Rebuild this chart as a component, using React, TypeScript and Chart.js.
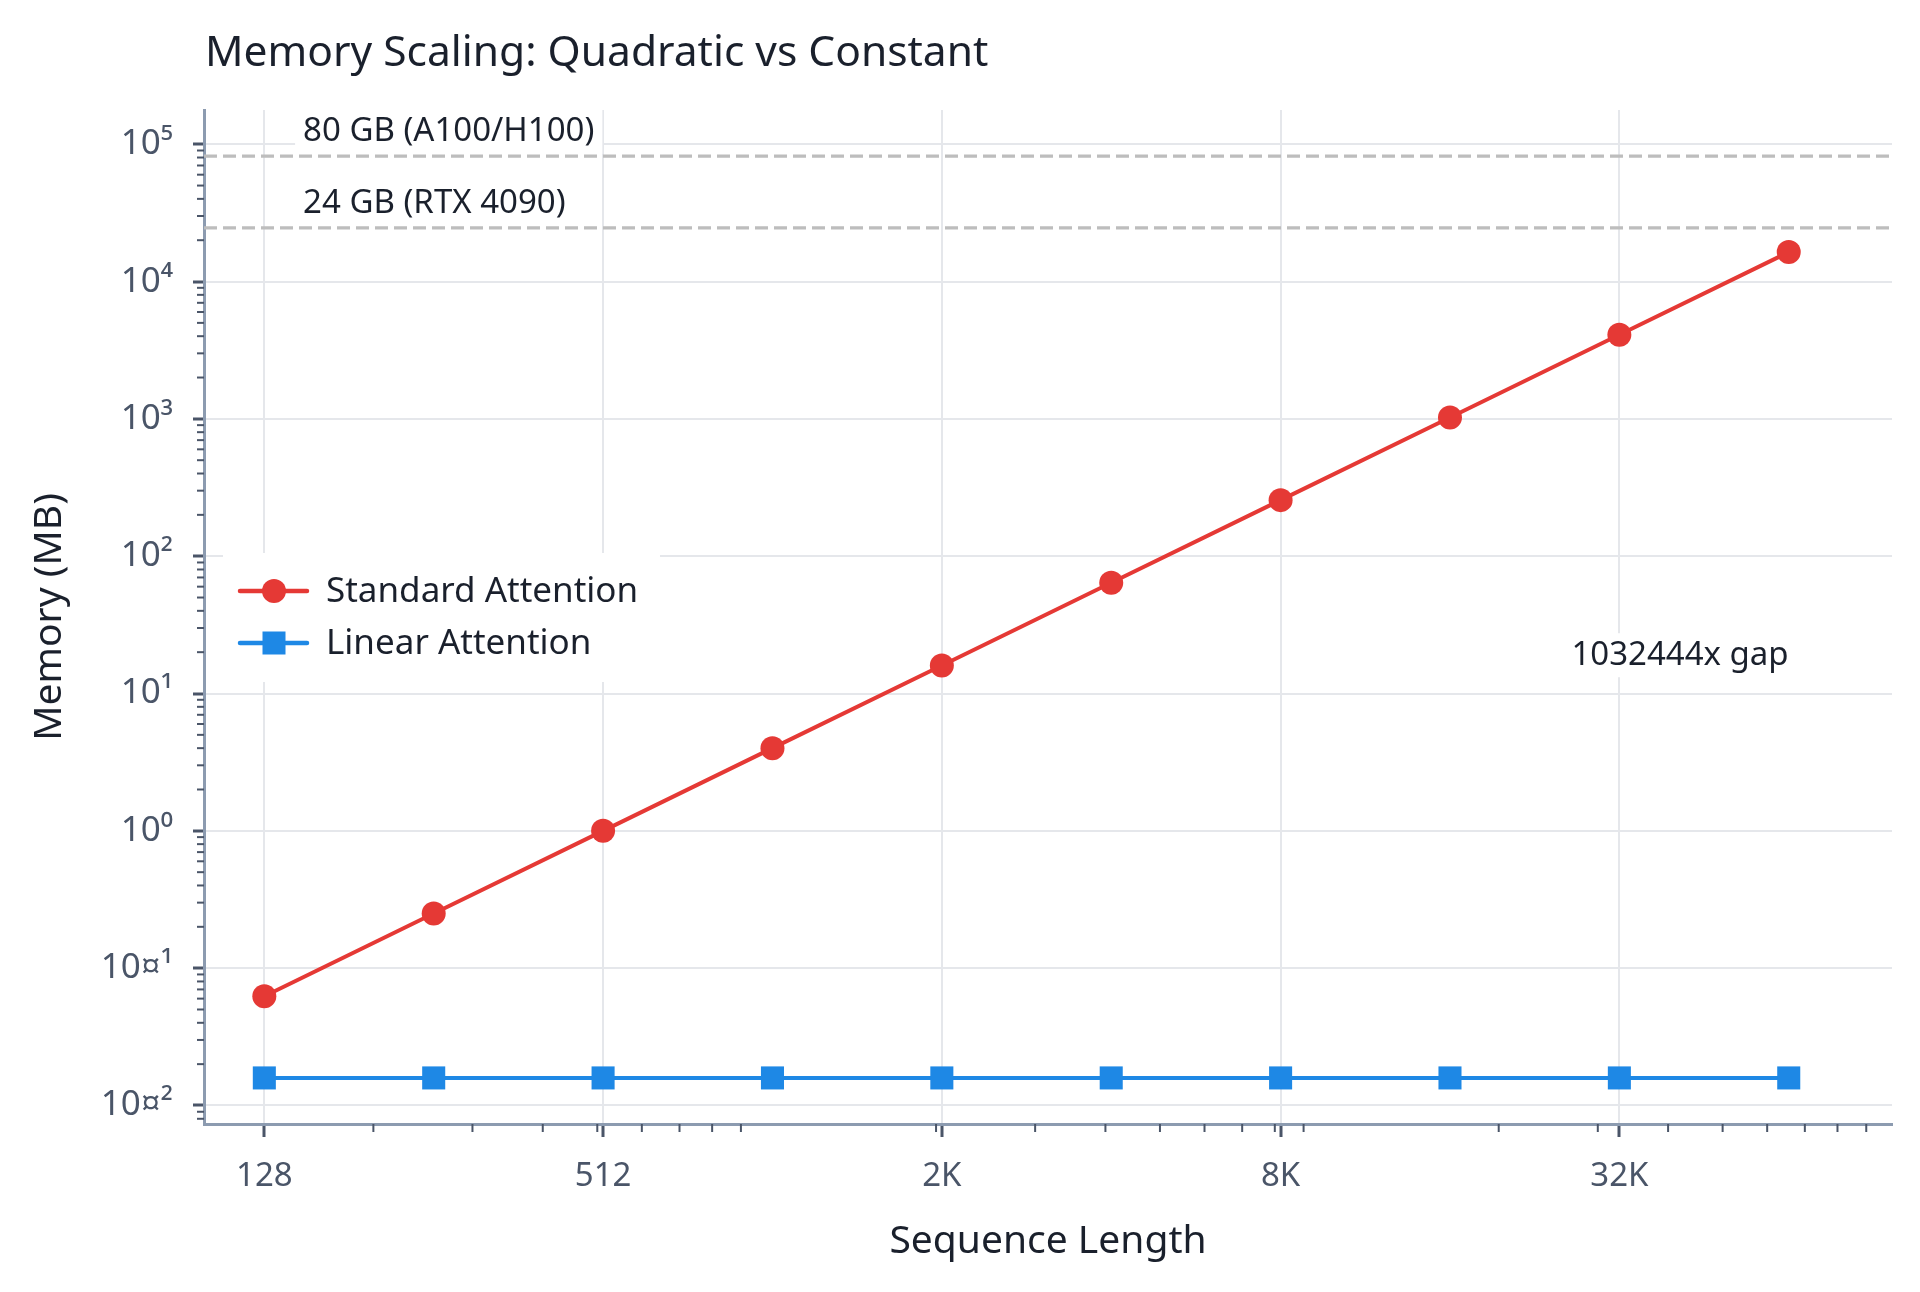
import { useEffect, useRef } from "react"
import { Chart, registerables } from "chart.js"

Chart.register(...registerables)

// sequence lengths (tokens) and memory in MB
const seqLengths = [128, 256, 512, 1024, 2048, 4096, 8192, 16384, 32768, 65536]
const standardMB = [0.0625, 0.25, 1, 4, 16, 64, 256, 1024, 4096, 16384]
const linearMB = [0.01587, 0.01587, 0.01587, 0.01587, 0.01587, 0.01587, 0.01587, 0.01587, 0.01587, 0.01587]

// GPU memory limits (MB) and their labels
const gpuLimitsMB = [81920, 24576]
const gpuLabels = ["80 GB (A100/H100)", "24 GB (RTX 4090)"]
const gpuLabelY = [122880, 36864]
const gpuLabelX = 150

const gapLabel = "1032444x gap"
const gapLabelPos = { x: 42000, y: 19 }

const xTickValues = [128, 512, 2048, 8192, 32768]
const xTickLabels = ["128", "512", "2K", "8K", "32K"]
const yTickValues = [0.01, 0.1, 1, 10, 100, 1000, 10000, 100000]
const yTickLabels = ["10¤²", "10¤¹", "10⁰", "10¹", "10²", "10³", "10⁴", "10⁵"]

const FONT = "'Noto Sans', 'DejaVu Sans', sans-serif"
const RED = "#e53935"
const BLUE = "#1e88e5"
const GRID = "#e5e7eb"
const AXIS = "#8c9bb0"
const TICK = "#4a5568"
const TEXT = "#1a202c"

// minor log ticks (2..9 x 10^k) drawn on the axes, plus title, text boxes and legend
const decorPlugin = {
  id: "decor",
  beforeDatasetsDraw(chart: any) {
    const { ctx, chartArea, scales } = chart
    const x = scales.x
    const y = scales.y
    ctx.save()
    // text boxes for reference lines
    ctx.font = `33px ${FONT}`
    ctx.textBaseline = "middle"
    gpuLabels.forEach((label, i) => {
      const px = x.getPixelForValue(gpuLabelX)
      const py = y.getPixelForValue(gpuLabelY[i])
      const w = ctx.measureText(label).width
      ctx.fillStyle = "#ffffff"
      ctx.fillRect(px - 8, py - 22, w + 16, 44)
      ctx.fillStyle = TEXT
      ctx.textAlign = "left"
      ctx.fillText(label, px, py)
    })
    {
      const px = x.getPixelForValue(gapLabelPos.x)
      const py = y.getPixelForValue(gapLabelPos.y)
      const w = ctx.measureText(gapLabel).width
      ctx.fillStyle = "#ffffff"
      ctx.fillRect(px - w / 2 - 8, py - 22, w + 16, 44)
      ctx.fillStyle = TEXT
      ctx.textAlign = "center"
      ctx.fillText(gapLabel, px, py)
    }
    // legend
    const lx = chartArea.left + 19
    const ly = chartArea.top + 443
    ctx.fillStyle = "#ffffff"
    ctx.fillRect(lx, ly, 437, 129)
    const items = [
      { label: "Standard Attention", color: RED, style: "circle" },
      { label: "Linear Attention", color: BLUE, style: "rect" },
    ]
    ctx.font = `35px ${FONT}`
    items.forEach((it, i) => {
      const cy = ly + 38 + i * 52
      ctx.strokeStyle = it.color
      ctx.lineWidth = 4.5
      ctx.lineCap = "round"
      ctx.beginPath()
      ctx.moveTo(lx + 17, cy)
      ctx.lineTo(lx + 84, cy)
      ctx.stroke()
      ctx.fillStyle = it.color
      if (it.style === "circle") {
        ctx.beginPath()
        ctx.arc(lx + 51, cy, 12, 0, Math.PI * 2)
        ctx.fill()
      } else {
        ctx.fillRect(lx + 51 - 11.5, cy - 11.5, 23, 23)
      }
      ctx.fillStyle = TEXT
      ctx.textAlign = "left"
      ctx.fillText(it.label, lx + 103, cy + 1)
    })
    ctx.restore()
  },
  afterDraw(chart: any) {
    const { ctx, chartArea, scales } = chart
    const x = scales.x
    const y = scales.y
    ctx.save()
    ctx.strokeStyle = TICK
    ctx.lineWidth = 2
    for (let k = 2; k <= 5; k++) {
      for (let m = 2; m <= 9; m++) {
        const v = m * Math.pow(10, k)
        if (v < x.min || v > x.max) continue
        const px = x.getPixelForValue(v)
        ctx.beginPath()
        ctx.moveTo(px, chartArea.bottom)
        ctx.lineTo(px, chartArea.bottom + 8)
        ctx.stroke()
      }
    }
    for (let k = -3; k <= 5; k++) {
      for (let m = 2; m <= 9; m++) {
        const v = m * Math.pow(10, k)
        if (v < y.min || v > y.max) continue
        const py = y.getPixelForValue(v)
        ctx.beginPath()
        ctx.moveTo(chartArea.left, py)
        ctx.lineTo(chartArea.left - 7, py)
        ctx.stroke()
      }
    }
    // title
    ctx.fillStyle = TEXT
    ctx.font = `42.5px ${FONT}`
    ctx.textAlign = "left"
    ctx.textBaseline = "alphabetic"
    ctx.fillText("Memory Scaling: Quadratic vs Constant", chartArea.left + 1, 66)
    ctx.restore()
  },
}

export default function App() {
  const canvasRef = useRef<HTMLCanvasElement>(null)
  const chartRef = useRef<Chart | null>(null)

  useEffect(() => {
    if (!canvasRef.current) return
    const ctx = canvasRef.current.getContext("2d")
    if (!ctx) return
    if (chartRef.current) chartRef.current.destroy()

    const xMin = 100
    const xMax = 100000

    chartRef.current = new Chart(ctx, {
      type: "line",
      data: {
        datasets: [
          ...gpuLimitsMB.map((v) => ({
            label: "limit",
            data: [
              { x: xMin, y: v },
              { x: xMax, y: v },
            ],
            borderColor: "#bdbdbd",
            borderWidth: 3.2,
            borderDash: [13, 6],
            pointRadius: 0,
            order: 3,
          })),
          {
            label: "Standard Attention",
            data: seqLengths.map((n, i) => ({ x: n, y: standardMB[i] })),
            borderColor: RED,
            backgroundColor: RED,
            borderWidth: 4,
            pointStyle: "circle",
            pointRadius: 12,
            pointBorderWidth: 0,
            order: 1,
          },
          {
            label: "Linear Attention",
            data: seqLengths.map((n, i) => ({ x: n, y: linearMB[i] })),
            borderColor: BLUE,
            backgroundColor: BLUE,
            borderWidth: 4,
            pointStyle: "rect",
            pointRadius: 16.3,
            pointBorderWidth: 0,
            order: 2,
          },
        ],
      },
      options: {
        animation: false,
        responsive: false,
        devicePixelRatio: 1,
        layout: { padding: { top: 110, right: 28, bottom: 0, left: 0 } },
        plugins: {
          legend: { display: false },
          title: { display: false },
          tooltip: { enabled: false },
        },
        scales: {
          x: {
            type: "logarithmic",
            min: xMin,
            max: xMax,
            afterBuildTicks: (s: any) => {
              s.ticks = xTickValues.map((v) => ({ value: v }))
            },
            afterFit: (s: any) => {
              s.height = 168
            },
            ticks: {
              autoSkip: false,
              maxRotation: 0,
              padding: 20,
              color: TICK,
              font: { family: FONT, size: 33 },
              callback: (_v: any, i: number) => xTickLabels[i],
            },
            grid: {
              color: GRID,
              lineWidth: 2,
              tickLength: 13,
              tickColor: TICK,
              tickWidth: 3,
            },
            border: { display: true, color: AXIS, width: 3 },
            title: {
              display: true,
              text: "Sequence Length",
              color: TEXT,
              font: { family: FONT, size: 39 },
              padding: { top: 0, bottom: 27 },
            },
          },
          y: {
            type: "logarithmic",
            min: 0.00733,
            max: 177500,
            afterBuildTicks: (s: any) => {
              s.ticks = yTickValues.map((v) => ({ value: v }))
            },
            afterFit: (s: any) => {
              s.width = 204
            },
            ticks: {
              autoSkip: false,
              padding: 20,
              color: TICK,
              font: { family: FONT, size: 35 },
              callback: (_v: any, i: number) => yTickLabels[i],
            },
            grid: {
              color: GRID,
              lineWidth: 2,
              tickLength: 11,
              tickColor: TICK,
              tickWidth: 3,
            },
            border: { display: true, color: AXIS, width: 3 },
            title: {
              display: true,
              text: "Memory (MB)",
              color: TEXT,
              font: { family: FONT, size: 39 },
              padding: { top: 26, bottom: 0 },
            },
          },
        },
      },
      plugins: [decorPlugin],
    } as any)

    return () => {
      if (chartRef.current) {
        chartRef.current.destroy()
        chartRef.current = null
      }
    }
  }, [])

  return (
    <div style={{ position: "fixed", left: 0, top: 0, width: 1920, height: 1292, background: "#ffffff" }}>
      <canvas ref={canvasRef} width={1920} height={1292} style={{ display: "block" }}></canvas>
    </div>
  )
}
